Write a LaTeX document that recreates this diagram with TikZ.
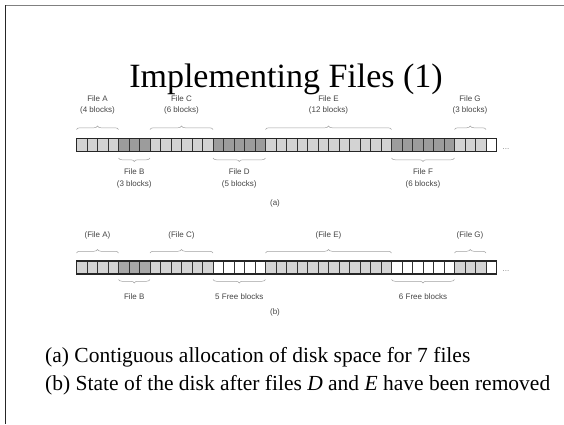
\documentclass[tikz,border=0pt]{standalone}
\usepackage{fontspec}
\setmainfont{Liberation Serif}
\newfontfamily\labfont{Liberation Sans}
\usetikzlibrary{decorations.pathreplacing}
\definecolor{blkL}{HTML}{D3D3D3}
\definecolor{blkD}{HTML}{9C9C9C}
\definecolor{blkM}{HTML}{A8A8A8}
\definecolor{blkW}{HTML}{FFFFFF}
\definecolor{labgray}{HTML}{444444}
\definecolor{brcgray}{HTML}{A0A0A0}
\tikzset{
  blk/.style={draw=black!80, line width=0.7pt, minimum width=10.5pt, minimum height=13pt, inner sep=0pt, outer sep=0pt},
  strip/.style={draw=black!85, line width=1.1pt},
  brc/.style={draw=brcgray, line width=0.5pt, decorate, decoration={brace, amplitude=3.5pt}},
  brcm/.style={brc, decoration={brace, amplitude=3.5pt, mirror}},
  lbl/.style={font=\labfont\fontsize{8}{11.5}\selectfont, text=labgray, align=center, inner sep=0pt},
  captxt/.style={font=\fontsize{21.5}{26}\selectfont, anchor=base west, inner sep=0pt},
  frametop/.style={draw=black!50, line width=1pt},
  frameleft/.style={draw=black!85, line width=1pt}
}
\begin{document}
\begin{tikzpicture}[x=1pt,y=-1pt]
\useasboundingbox (0,0) rectangle (564,424);
\coordinate (fc) at (5,5);
\coordinate (fr) at (564,5);
\coordinate (fb) at (5,424);
\draw[frametop] (fc) -- (fr);
\draw[frameleft] (fc) -- (fb);
\node[anchor=base, inner sep=0pt, font=\fontsize{34}{40}\selectfont] (title) at (286,87) {Implementing Files (1)};
% strip (a)
\foreach \c [count=\i from 0] in {L,L,L,L,D,D,D,L,L,L,L,L,L,D,D,D,D,D,L,L,L,L,L,L,L,L,L,L,L,L,D,D,D,D,D,D,L,L,L,W}
  \node[blk, fill=blk\c] (a\i) at ({76.5+10.5*\i+5.25},145) {};
\draw[strip] (a0.north west) rectangle (a39.south east);
\node[lbl, text=gray] (dotsa) at (506,149) {...};
% top braces (a)
\draw[brc] ([yshift=9pt]a0.north west) -- ([yshift=9pt]a3.north east);
\draw[brc] ([yshift=9pt]a7.north west) -- ([yshift=9pt]a12.north east);
\draw[brc] ([yshift=9pt]a18.north west) -- ([yshift=9pt]a29.north east);
\draw[brc] ([yshift=9pt]a36.north west) -- ([yshift=9pt]a38.north east);
% bottom braces (a)
\draw[brcm] ([yshift=-6.5pt]a4.south west) -- ([yshift=-6.5pt]a6.south east);
\draw[brcm] ([yshift=-6.5pt]a13.south west) -- ([yshift=-6.5pt]a17.south east);
\draw[brcm] ([yshift=-6.5pt]a30.south west) -- ([yshift=-6.5pt]a35.south east);
% labels (a)
\node[lbl] (fa) at (97.5,105) {File A\\(4 blocks)};
\node[lbl] (fcl) at (181.5,105) {File C\\(6 blocks)};
\node[lbl] (fe) at (328.5,105) {File E\\(12 blocks)};
\node[lbl] (fg) at (470,105) {File G\\(3 blocks)};
\node[lbl] (fbl) at (134.25,178.5) {File B\\(3 blocks)};
\node[lbl] (fd) at (239.25,178.5) {File D\\(5 blocks)};
\node[lbl] (ff) at (423,178.5) {File F\\(6 blocks)};
\node[lbl] (capa) at (275,203) {(a)};
% strip (b)
\foreach \c [count=\i from 0] in {L,L,L,L,M,M,M,L,L,L,L,L,L,W,W,W,W,W,L,L,L,L,L,L,L,L,L,L,L,L,W,W,W,W,W,W,L,L,L,W}
  \node[blk, fill=blk\c] (b\i) at ({76.5+10.5*\i+5.25},267.5) {};
\draw[strip] (b0.north west) rectangle (b39.south east);
\node[lbl, text=gray] (dotsb) at (506,271.5) {...};
\draw[brc] ([yshift=8pt]b0.north west) -- ([yshift=8pt]b3.north east);
\draw[brc] ([yshift=8pt]b7.north west) -- ([yshift=8pt]b12.north east);
\draw[brc] ([yshift=8pt]b18.north west) -- ([yshift=8pt]b29.north east);
\draw[brc] ([yshift=8pt]b36.north west) -- ([yshift=8pt]b38.north east);
\draw[brcm] ([yshift=-5.5pt]b4.south west) -- ([yshift=-5.5pt]b6.south east);
\draw[brcm] ([yshift=-5.5pt]b13.south west) -- ([yshift=-5.5pt]b17.south east);
\draw[brcm] ([yshift=-5.5pt]b30.south west) -- ([yshift=-5.5pt]b35.south east);
\node[lbl] (pa) at (97.5,235) {(File A)};
\node[lbl] (pc) at (181.5,235) {(File C)};
\node[lbl] (pe) at (328.5,235) {(File E)};
\node[lbl] (pg) at (470,235) {(File G)};
\node[lbl] (pb) at (134.25,297) {File B};
\node[lbl] (fr5) at (239.25,297) {5 Free blocks};
\node[lbl] (fr6) at (423,297) {6 Free blocks};
\node[lbl] (capb) at (275,312) {(b)};
% captions
\node[captxt] (ca) at (45,362) {(a) Contiguous allocation of disk space for 7 files};
\node[captxt] (cb) at (45,390) {(b) State of the disk after files \textit{D} and \textit{E} have been removed};
\end{tikzpicture}
\end{document}
